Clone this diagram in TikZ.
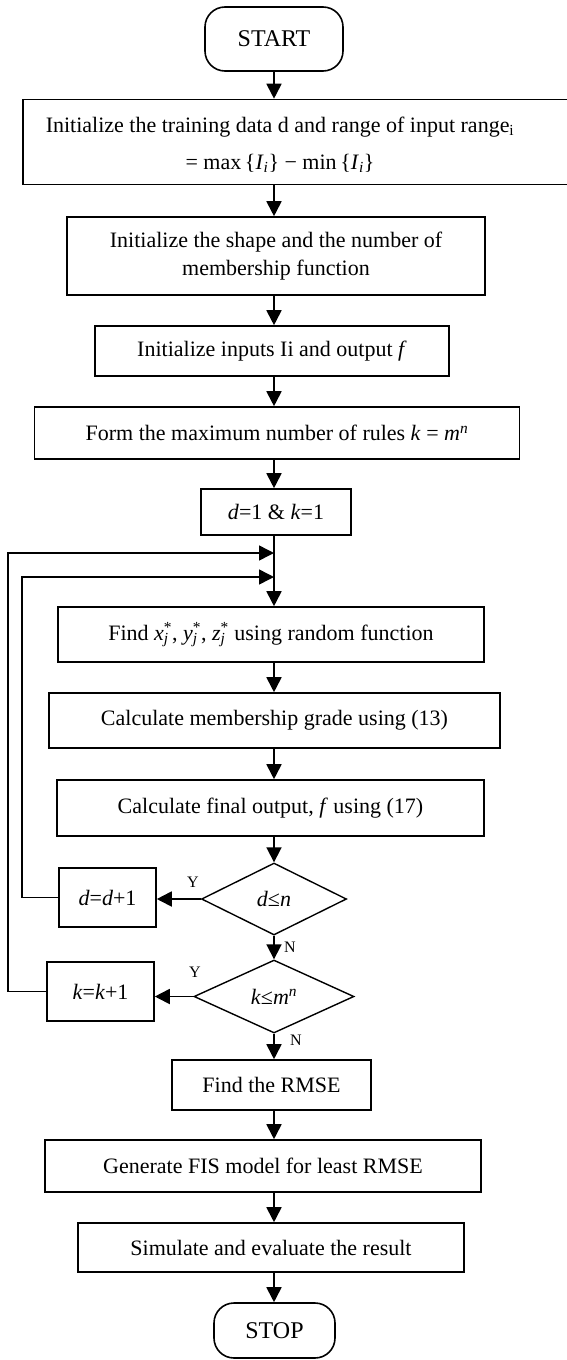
\documentclass[tikz,border=0pt]{standalone}
\usepackage{fontspec}
\setmainfont{Liberation Serif}
\usetikzlibrary{arrows.meta}
\usetikzlibrary{shapes.geometric}
\usetikzlibrary{calc}
\tikzstyle{process}=[rectangle,draw,line width=1.6pt,inner sep=0pt,align=center]
\tikzstyle{terminal}=[rectangle,rounded corners=20pt,draw,line width=1.6pt,inner sep=0pt,font=\fontsize{24}{28}\selectfont]
\tikzstyle{decision}=[diamond,draw,line width=1.4pt,inner sep=0pt]
\tikzstyle{flow}=[->,line width=1.8pt]
\tikzstyle{answer}=[font=\fontsize{16}{18}\selectfont]

\begin{document}
\begin{tikzpicture}[x=1pt,y=-1pt,font=\fontsize{22}{28}\selectfont,
  >={Triangle[length=15pt,width=15pt]}]

  \useasboundingbox (0,0) rectangle (566,1360);
  \coordinate (spine) at (274,0);

  \node[terminal, minimum width=138pt, minimum height=64pt] (start) at (274,39) {START};
  \node[process, minimum width=546pt, minimum height=85pt] (init) at (296,142) {};
  \node[align=center] (initText) at (280,145) {Initialize the training data d and range of input range\textsubscript{i}\\[9pt]
     = max\,\{\textit{I}\textsubscript{\textit{i}}\} − min\,\{\textit{I}\textsubscript{\textit{i}}\}};
  \node[process, minimum width=418pt, minimum height=78pt] (shape) at (276,256) {Initialize the shape and the number of\\membership function};
  \node[process, minimum width=354pt, minimum height=50pt] (inputs) at (272,351) {Initialize inputs Ii and output \textit{f}};
  \node[process, minimum width=485pt, minimum height=52pt] (rules) at (277,433) {Form the maximum number of rules \textit{k} = \textit{m}\textsuperscript{\textit{n}}};
  \node[process, minimum width=150pt, minimum height=46pt] (init1) at (276,512) {\textit{d}=1 \& \textit{k}=1};

  \coordinate (kjoin) at (274,553);
  \coordinate (djoin) at (274,577);

  \node[process, minimum width=426pt, minimum height=55pt] (find) at (271,634.5)
     {Find \textit{x}\rlap{\textsubscript{\textit{j}}}\textsuperscript{*}, \textit{y}\rlap{\textsubscript{\textit{j}}}\textsuperscript{*}, \textit{z}\rlap{\textsubscript{\textit{j}}}\textsuperscript{*} using random function};
  \node[process, minimum width=451pt, minimum height=55pt] (grade) at (274.5,720.5) {Calculate membership grade using (13)};
  \node[process, minimum width=427pt, minimum height=56pt] (final) at (270.5,808) {Calculate final output, \textit{f} using (17)};

  \node[decision, minimum width=145pt, minimum height=72pt] (dtest) at (274,899) {\textit{d}≤\textit{n}};
  \node[process, minimum width=97pt, minimum height=59pt] (dinc) at (107.5,897.5) {\textit{d}=\textit{d}+1};
  \node[decision, minimum width=160pt, minimum height=73pt] (ktest) at (274,996.5) {\textit{k}≤\textit{m}\textsuperscript{\textit{n}}};
  \node[process, minimum width=107pt, minimum height=59pt] (kinc) at (100.5,991.5) {\textit{k}=\textit{k}+1};

  \node[process, minimum width=199pt, minimum height=50pt] (rmse) at (271.5,1085) {Find the RMSE};
  \node[process, minimum width=436pt, minimum height=52pt] (fis) at (263,1166) {Generate FIS model for least RMSE};
  \node[process, minimum width=386pt, minimum height=49pt] (sim) at (271,1247.5) {Simulate and evaluate the result};
  \node[terminal, minimum width=121pt, minimum height=55pt] (stop) at (274.5,1330.5) {STOP};

  % main column
  \foreach \source/\dest in {start/init, init/shape, shape/inputs, inputs/rules, rules/init1,
      init1/find, find/grade, grade/final, final/dtest, dtest/ktest, ktest/rmse, rmse/fis, fis/sim, sim/stop}
      \draw[flow] (spine |- \source.south) -- (spine |- \dest.north);

  % loops back
  \coordinate (kback) at (8,553);
  \coordinate (dback) at (22,577);
  \draw[flow] (dtest.west) -- (dtest.west -| dinc.east);
  \draw[flow] (ktest.west) -- (ktest.west -| kinc.east);
  \draw[line width=1.5pt, ->] (dinc.west) -- (dinc.west -| dback) |- (djoin);
  \draw[line width=1.5pt, ->] (kinc.west) -- (kinc.west -| kback) |- (kjoin);

  \node[answer] (yd) at (193,882) {Y};
  \node[answer] (nd) at (290,947) {N};
  \node[answer] (yk) at (195,972) {Y};
  \node[answer] (nk) at (296,1040) {N};

\end{tikzpicture}
\end{document}
